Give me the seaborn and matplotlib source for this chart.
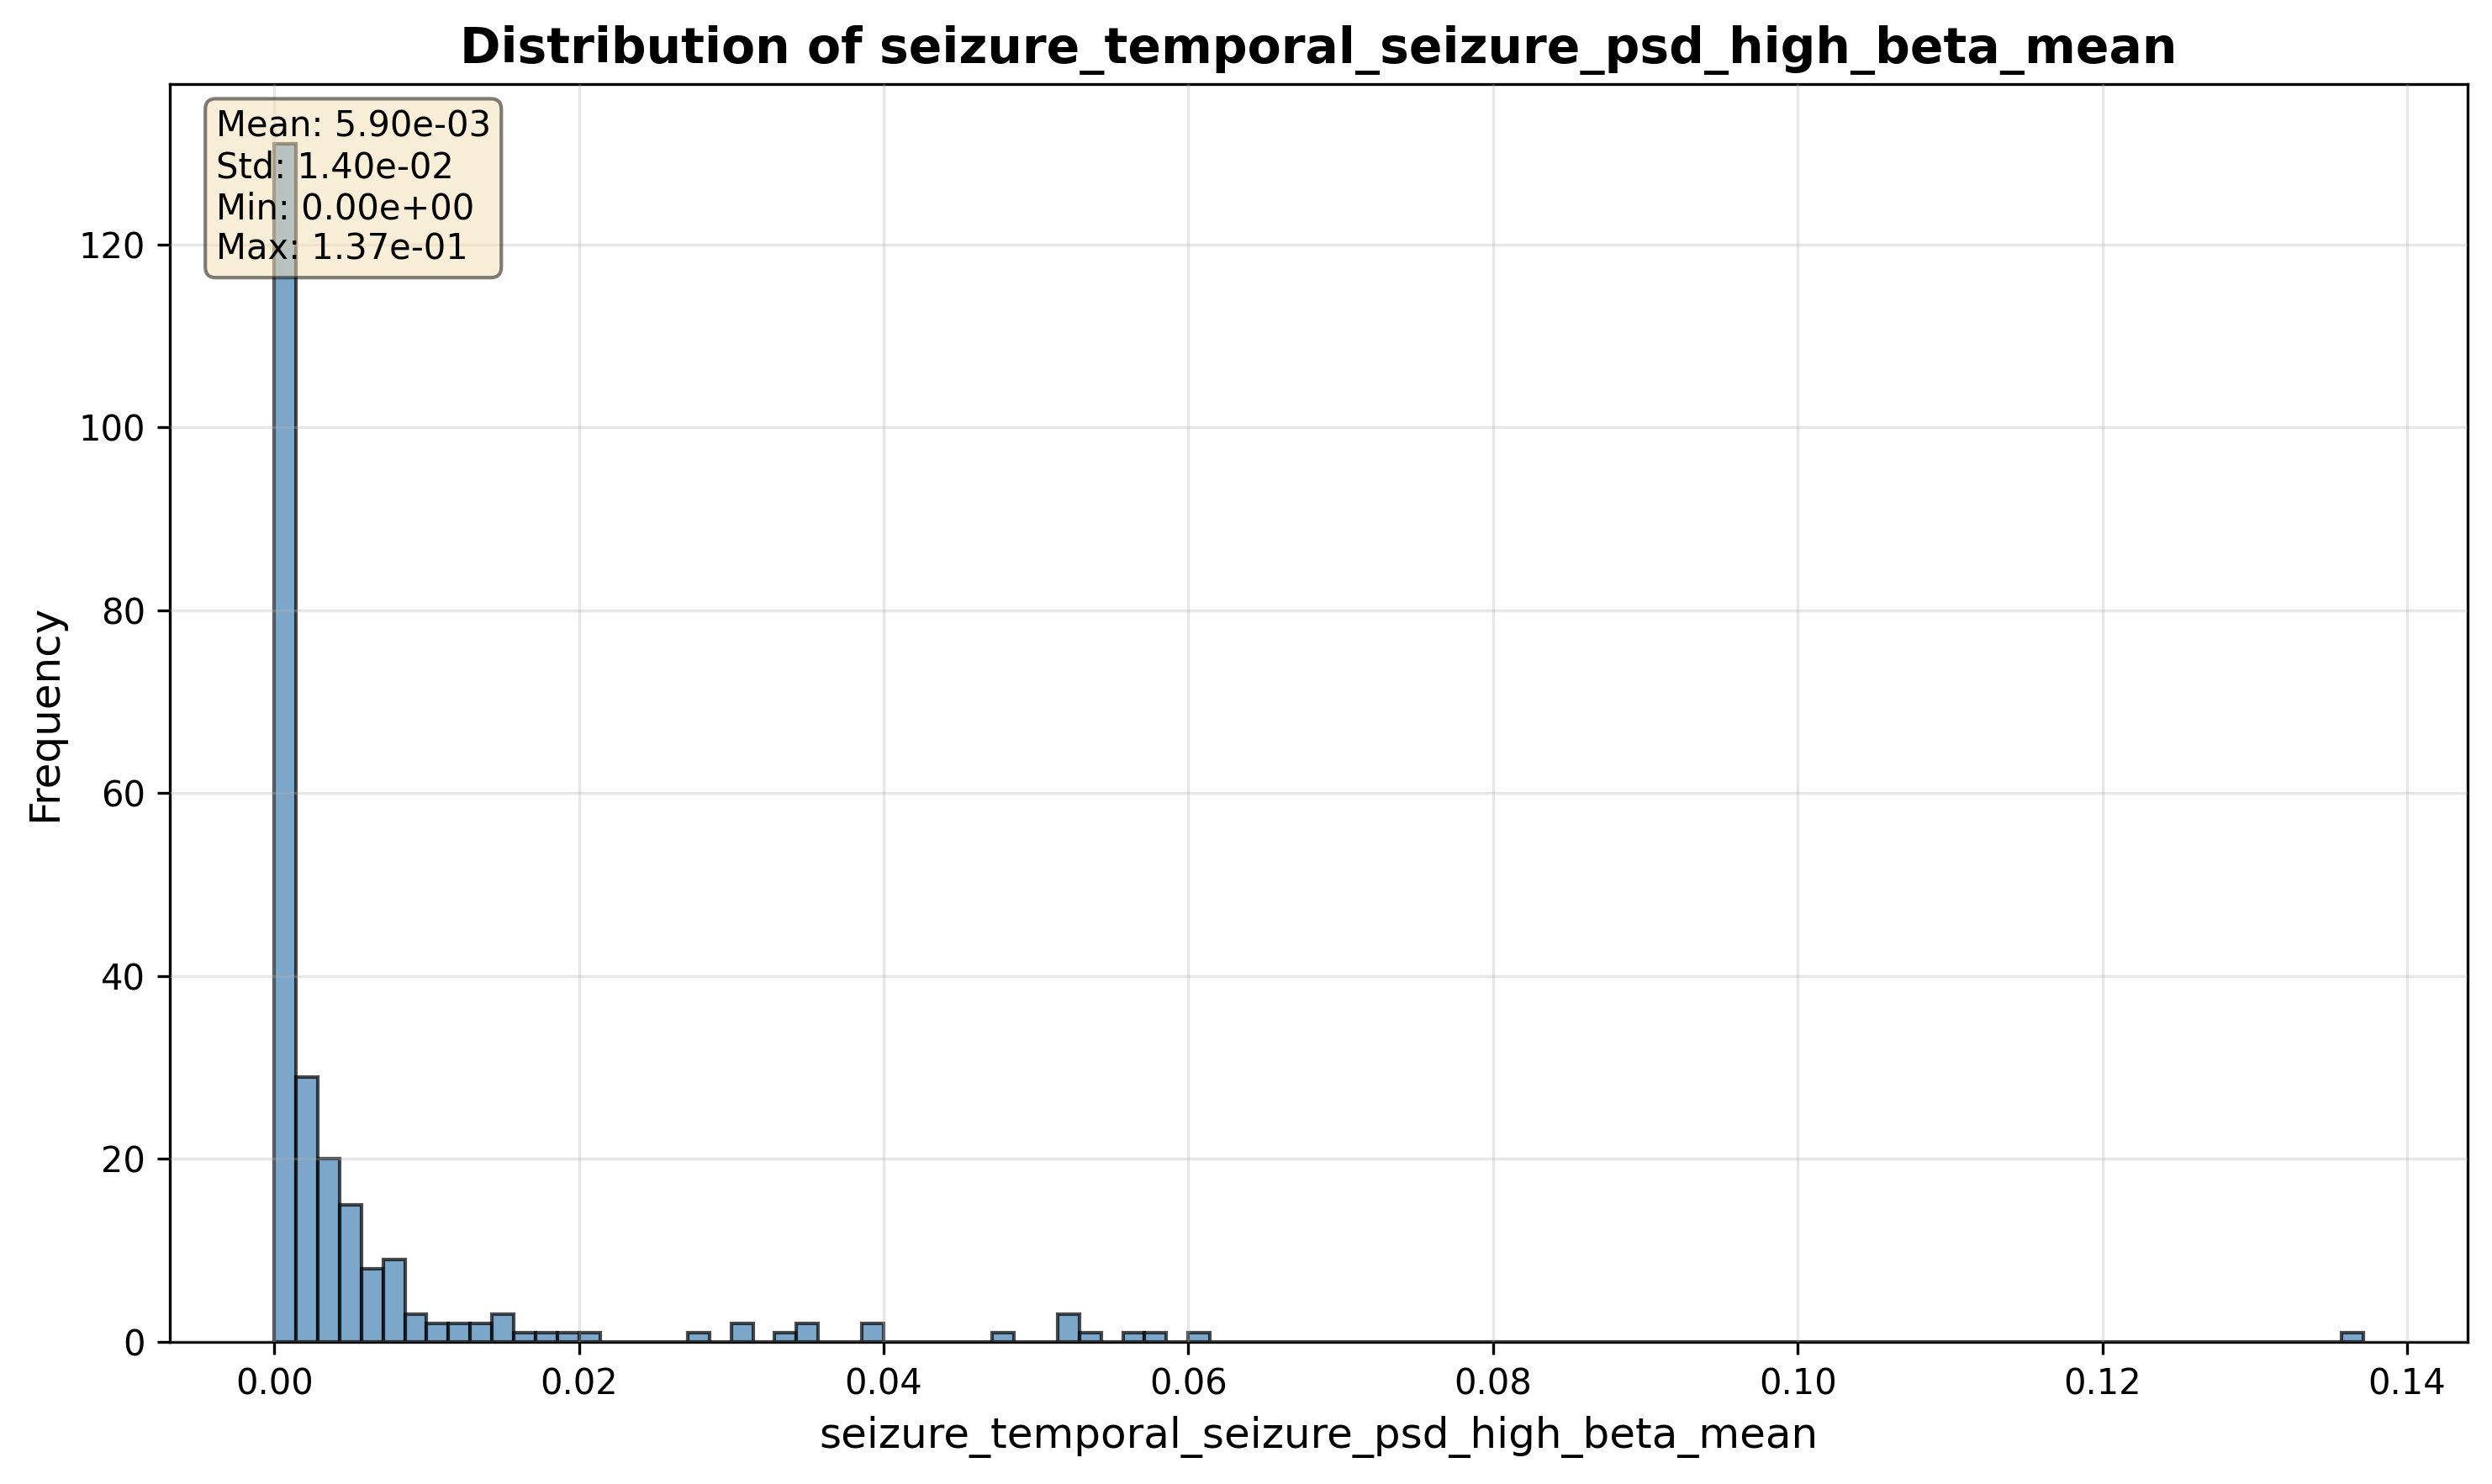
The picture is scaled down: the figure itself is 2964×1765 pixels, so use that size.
import numpy as np
import pandas as pd
import matplotlib
matplotlib.use("Agg")
import matplotlib.pyplot as plt
import seaborn as sns

feature = "seizure_temporal_seizure_psd_high_beta_mean"
n_bins = 96
data_min = 0.0
data_max = 0.13712

# non-empty bins (index) and their counts
bin_index = [0, 1, 2, 3, 4, 5, 6, 7, 8, 9, 10, 11, 12, 13, 14,
             19, 21, 23, 24, 27, 33, 36, 37, 39, 40, 42, 95]
bin_count = [131, 29, 20, 15, 8, 9, 3, 2, 2, 2, 3, 1, 1, 1, 1,
             1, 2, 1, 2, 2, 1, 3, 1, 1, 1, 1, 1]

stats_labels = ["Mean", "Std", "Min", "Max"]
stats_values = ["5.90e-03", "1.40e-02", "0.00e+00", "1.37e-01"]

width = (data_max - data_min) / n_bins
centers = [data_min + (i + 0.5) * width for i in bin_index]
df = pd.DataFrame({feature: centers, "count": bin_count})

fig = plt.figure(figsize=(2964 / 300, 1765 / 300), dpi=300)
ax = fig.add_axes([202 / 2964, 1 - 1596 / 1765, (2935 - 202) / 2964, (1596 - 100) / 1765])

sns.histplot(data=df, x=feature, weights="count", bins=n_bins,
             binrange=(data_min, data_max), color="steelblue", alpha=0.7,
             edgecolor=(0, 0, 0, 0.7), linewidth=1.0, ax=ax)

ax.set_title(f"Distribution of {feature}", fontsize=14, fontweight="bold")
ax.set_xlabel(feature, fontsize=12)
ax.set_ylabel("Frequency", fontsize=12)
ax.grid(True, alpha=0.3)
ax.set_axisbelow(False)

txt = "\n".join(f"{l}: {v}" for l, v in zip(stats_labels, stats_values))
ax.text(0.02, 0.98, txt, transform=ax.transAxes, fontsize=10, va="top",
        bbox=dict(boxstyle="round", facecolor="wheat", alpha=0.5))

fig.savefig("out.png", dpi=300)
